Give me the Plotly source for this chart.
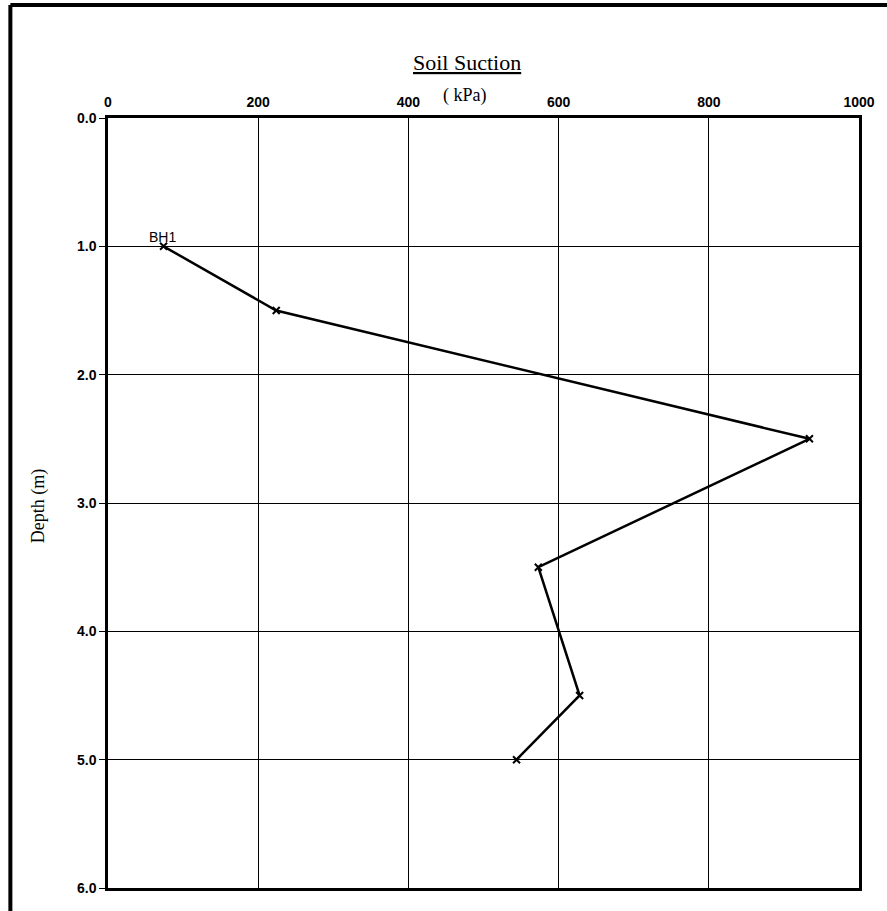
import plotly.graph_objects as go

# soil suction profile, borehole BH1
depth_m = [1.0, 1.5, 2.5, 3.5, 4.5, 5.0]
suction_kpa = [74, 224, 934, 573, 628, 544]
borehole = "BH1"

x_ticks = [0, 200, 400, 600, 800, 1000]
y_ticks = [0, 1, 2, 3, 4, 5, 6]

fig = go.Figure()

fig.add_trace(go.Scatter(
    x=suction_kpa,
    y=depth_m,
    mode="lines+markers",
    line=dict(color="black", width=2.5),
    marker=dict(symbol="x-thin-open", size=7, line=dict(color="black", width=2)),
    showlegend=False,
    hoverinfo="x+y",
))

fig.add_annotation(
    x=suction_kpa[0], y=depth_m[0], text=borehole,
    showarrow=False, xanchor="center", yanchor="middle",
    xshift=-1, yshift=9,
    font=dict(family="Liberation Sans", size=14, color="black"),
)

serif = "Liberation Serif"
fig.add_annotation(
    x=0.478, y=1.0721, xref="paper", yref="paper", text="<u>Soil Suction</u>",
    showarrow=False, xanchor="center", yanchor="middle",
    font=dict(family=serif, size=22, color="black"),
)
fig.add_annotation(
    x=0.476, y=1.029, xref="paper", yref="paper", text="( kPa)",
    showarrow=False, xanchor="center", yanchor="middle",
    font=dict(family=serif, size=18, color="black"),
)
fig.add_annotation(
    x=-0.093, y=0.496, xref="paper", yref="paper", text="Depth (m)",
    showarrow=False, xanchor="center", yanchor="middle", textangle=-90,
    font=dict(family=serif, size=18, color="black"),
)

# outer frame (top and left edges visible)
fig.add_shape(
    type="line", xref="paper", yref="paper",
    x0=-0.13, x1=1.2, y0=1.1468, y1=1.1468,
    line=dict(color="black", width=4),
)
fig.add_shape(
    type="line", xref="paper", yref="paper",
    x0=-0.13, x1=-0.13, y0=-0.2, y1=1.1468,
    line=dict(color="black", width=4),
)

axis_font = dict(family="Liberation Sans", size=14, color="black", weight="bold")

fig.update_layout(
    width=887, height=911,
    margin=dict(l=108, r=25, t=118, b=23),
    paper_bgcolor="white",
    plot_bgcolor="white",
    xaxis=dict(
        side="top", range=[0, 1000], tickvals=x_ticks,
        showgrid=True, gridcolor="black", gridwidth=1,
        showline=True, linecolor="black", linewidth=2.5, mirror=True,
        zeroline=False, ticks="", ticklabelstandoff=3,
        tickfont=axis_font,
    ),
    yaxis=dict(
        range=[6, 0], tickvals=y_ticks, tickformat=".1f",
        showgrid=True, gridcolor="black", gridwidth=1,
        showline=True, linecolor="black", linewidth=2.5, mirror=True,
        zeroline=False, ticks="outside", ticklen=6, tickcolor="black",
        tickfont=axis_font,
    ),
)

# drop the default body margin so the figure sits at the window origin
fig.write_html(
    "out.html",
    config={"displayModeBar": False},
    post_script="document.body.style.margin='0';",
)
